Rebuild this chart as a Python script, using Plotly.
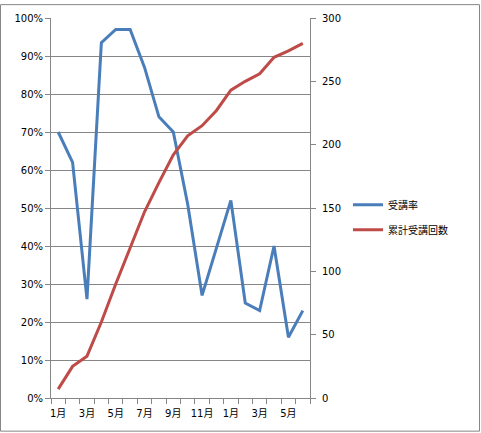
import plotly.graph_objects as go

months = ["1月", "2月", "3月", "4月", "5月", "6月", "7月", "8月", "9月",
          "10月", "11月", "12月", "1月", "2月", "3月", "4月", "5月", "6月"]
rate = [0.70, 0.62, 0.26, 0.935, 0.97, 0.97, 0.87, 0.74, 0.70,
        0.51, 0.27, 0.395, 0.52, 0.25, 0.23, 0.40, 0.16, 0.23]
cumulative = [7, 25, 33, 60, 90, 118, 147, 170, 192,
              207, 215, 227, 243, 250, 256, 269, 274, 280]

idx = list(range(len(months)))
boundaries = [i - 0.5 for i in range(len(months) + 1)]

W, H = 481, 433
L, R, T, B = 51, 171, 14, 35
pw, ph = W - L - R, H - T - B


def px(x):
    return (x - L) / pw


def py(y):
    return (H - B - y) / ph


grid = "#868686"
font = dict(family="DejaVu Sans, Noto Sans CJK JP", size=10, color="#000000")

fig = go.Figure()
fig.add_trace(go.Scatter(x=idx, y=rate, name="受講率", mode="lines", legendgroup="g1",
                         line=dict(color="#4A7EBB", width=3), yaxis="y"))
fig.add_trace(go.Scatter(x=idx, y=cumulative, name="累計受講回数", mode="lines", legendgroup="g2",
                         line=dict(color="#BE4B48", width=3), yaxis="y2"))
fig.add_trace(go.Scatter(x=[], y=[], xaxis="x2", yaxis="y", showlegend=False))

fig.update_layout(
    width=W, height=H,
    margin=dict(l=L, r=R, t=T, b=B, pad=0),
    paper_bgcolor="white", plot_bgcolor="white",
    font=font,
    showlegend=True,
    legend=dict(x=px(348), y=py(188), xanchor="left", yanchor="top",
                font=dict(family="Noto Sans CJK JP", size=10), bgcolor="rgba(0,0,0,0)",
                traceorder="grouped", tracegroupgap=6),
    xaxis=dict(range=[-0.5, len(months) - 0.5], tickmode="array",
               tickvals=idx[::2], ticktext=months[::2],
               ticks="outside", ticklen=6, tickcolor="rgba(0,0,0,0)",
               showgrid=False, showline=True, linecolor=grid, linewidth=1,
               zeroline=False, fixedrange=True),
    xaxis2=dict(range=[-0.5, len(months) - 0.5], overlaying="x", matches="x",
                tickmode="array", tickvals=boundaries, showticklabels=False,
                ticks="outside", ticklen=5, tickcolor=grid, showgrid=False,
                showline=False, zeroline=False, side="bottom", anchor="y"),
    yaxis=dict(range=[0, 1], tickmode="linear", tick0=0, dtick=0.1, tickformat=".0%",
               ticks="outside", ticklen=5, tickcolor=grid,
               showgrid=True, gridcolor=grid, gridwidth=1,
               showline=True, linecolor=grid, zeroline=False),
    yaxis2=dict(range=[0, 300], tickmode="linear", tick0=0, dtick=50,
                overlaying="y", side="right", ticks="outside", ticklen=5,
                tickcolor=grid, showgrid=False, showline=True, linecolor=grid,
                zeroline=False, ticklabelstandoff=4),
    shapes=[dict(type="rect", xref="paper", yref="paper",
                 x0=px(0.5), x1=px(W - 1.5), y0=py(H - 1.5), y1=py(0.5),
                 line=dict(color=grid, width=1), fillcolor="rgba(0,0,0,0)", layer="below")],
)

fig.write_html("out.html", config={"displayModeBar": False},
               post_script="document.body.style.margin='0';")
